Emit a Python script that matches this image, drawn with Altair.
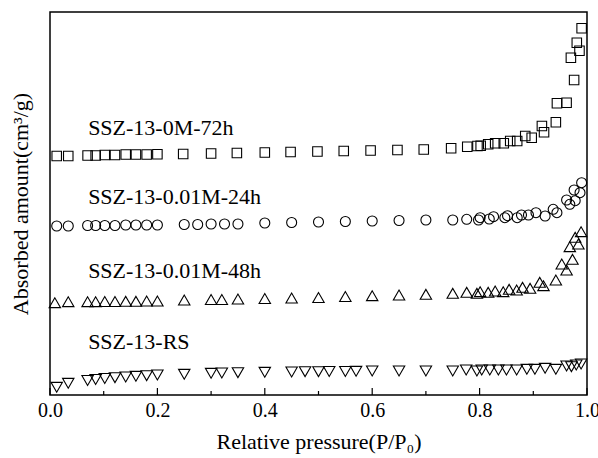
import altair as alt
import pandas as pd

# ---------------- data (arbitrary adsorption units) ----------------
p_72h = [0.0125, 0.034, 0.070, 0.085, 0.102, 0.121, 0.141, 0.160, 0.180, 0.200, 0.248, 0.300, 0.348,
         0.400, 0.448, 0.498, 0.547, 0.597, 0.647, 0.696, 0.747, 0.777, 0.796, 0.802, 0.816, 0.829,
         0.845, 0.857, 0.870, 0.885, 0.897, 0.916, 0.920, 0.942, 0.944, 0.962, 0.976, 0.970, 0.986,
         0.981, 0.990]
v_72h = [239, 239, 239.5, 239.5, 240, 240, 240.5, 240.5, 240.5, 240.7, 241, 241.5, 242,
         242.5, 243, 243.5, 244, 244.5, 245, 245.5, 246.7, 248.3, 249, 249.3, 250.7, 251.7,
         251.7, 254, 254, 259, 257.3, 269, 262.7, 272.7, 291.7, 292.3, 315, 337.3, 344.3,
         352.3, 366.7]

p_24h = [0.0125, 0.034, 0.070, 0.085, 0.102, 0.121, 0.141, 0.160, 0.180, 0.200, 0.250, 0.275, 0.300,
         0.325, 0.350, 0.400, 0.450, 0.500, 0.550, 0.600, 0.650, 0.700, 0.750, 0.776, 0.798, 0.801,
         0.818, 0.826, 0.847, 0.852, 0.870, 0.878, 0.891, 0.905, 0.922, 0.937, 0.944, 0.962, 0.968,
         0.978, 0.976, 0.987, 0.990]
v_24h = [169, 169, 169.5, 169.5, 169.5, 169.5, 170, 170, 170, 170, 170.5, 170.5, 171,
         171, 171, 172, 172.5, 173, 173.5, 174, 174.5, 175, 175, 175.7, 175, 177.3,
         176, 178.3, 177.3, 179.3, 177.3, 180, 180, 182.3, 179, 185.7, 182.3, 195, 190.7,
         194.3, 205, 202.3, 212.3]

p_48h = [0.009, 0.034, 0.070, 0.085, 0.102, 0.121, 0.141, 0.160, 0.180, 0.200, 0.250, 0.300, 0.320,
         0.350, 0.400, 0.450, 0.500, 0.550, 0.600, 0.650, 0.700, 0.750, 0.776, 0.795, 0.801, 0.816,
         0.829, 0.844, 0.855, 0.869, 0.880, 0.894, 0.912, 0.919, 0.942, 0.953, 0.962, 0.973, 0.968,
         0.984, 0.978, 0.989]
v_48h = [92.3, 93.3, 93.3, 93.3, 93.5, 93.5, 93.7, 93.7, 94, 94, 95, 95.5, 95.5,
         96, 96.5, 97, 97.5, 98.5, 99.3, 100, 100.7, 101.7, 102.7, 101.7, 103.3, 102.7,
         104, 103.3, 105.7, 105, 107.7, 106.7, 112.7, 109.3, 115, 131, 125, 135.7, 148.3,
         151, 157.7, 163.3]

p_rs = [0.0125, 0.034, 0.070, 0.085, 0.102, 0.121, 0.141, 0.160, 0.180, 0.200, 0.250, 0.300, 0.320,
        0.350, 0.400, 0.450, 0.475, 0.500, 0.520, 0.550, 0.570, 0.600, 0.650, 0.700, 0.750, 0.775,
        0.795, 0.804, 0.819, 0.835, 0.850, 0.869, 0.888, 0.903, 0.922, 0.942, 0.962, 0.971, 0.980,
        0.989]
v_rs = [7.7, 11.7, 14.5, 15.5, 16.5, 17.3, 18, 18.7, 19.3, 20, 20.7, 21.7, 22,
        22.3, 22.7, 23, 23.3, 23.3, 23.5, 23.5, 23.7, 24, 24, 24, 24, 25,
        24, 25, 25, 25, 25, 25, 25.7, 25.7, 26.7, 25.7, 29, 28.3, 30,
        31]

series_names = ["SSZ-13-0M-72h", "SSZ-13-0.01M-24h", "SSZ-13-0.01M-48h", "SSZ-13-RS"]
series_p = [p_72h, p_24h, p_48h, p_rs]
series_v = [v_72h, v_24h, v_48h, v_rs]

label_p = [0.071, 0.071, 0.071, 0.071]
label_v = [267, 198, 124, 53]

x_ticks = [0.0, 0.1, 0.2, 0.3, 0.4, 0.5, 0.6, 0.7, 0.8, 0.9, 1.0]
x_labels = [0.0, 0.2, 0.4, 0.6, 0.8, 1.0]

# ---------------- styling ----------------
FONT = "Liberation Serif"
shapes = ["square", "circle", "triangle-up", "triangle-down"]
sizes = [90, 100, 130, 130]

x_scale = alt.Scale(domain=[0, 1], nice=False, zero=False)
y_scale = alt.Scale(domain=[0, 383], nice=False, zero=False)

x_axis = alt.Axis(values=x_labels, format=".1f", ticks=False, domain=False, grid=False,
                  labelFlush=False, labelOverlap=False,
                  title="Relative pressure(P/P₀)", labelFont=FONT, labelFontSize=20,
                  labelColor="black", labelPadding=5, titleFont=FONT, titleFontSize=22,
                  titleFontWeight="normal", titleColor="black", titlePadding=11)
y_axis = alt.Axis(labels=False, ticks=False, domain=False, grid=False,
                  title="Absorbed amount(cm³/g)", titleFont=FONT, titleFontSize=22,
                  titleFontWeight="normal", titleColor="black", titlePadding=18)

X = alt.X("p:Q", scale=x_scale, axis=x_axis)
Y = alt.Y("v:Q", scale=y_scale, axis=y_axis)

layers = []
for i, (name, ps, vs) in enumerate(zip(series_names, series_p, series_v)):
    df = pd.DataFrame({"p": ps, "v": vs, "series": name})
    ch = alt.Chart(df).mark_point(shape=shapes[i], size=sizes[i], filled=False,
                                  color="black", strokeWidth=1.1, opacity=1).encode(x=X, y=Y)
    layers.append(ch)

tick_df = pd.DataFrame({"p": x_ticks,
                        "major": [abs(round(t * 10) % 2) == 0 for t in x_ticks]})
major_ticks = alt.Chart(tick_df).transform_filter("datum.major").mark_rule(
    color="black", strokeWidth=1.2).encode(x=X, y=alt.value(383), y2=alt.value(376))
minor_ticks = alt.Chart(tick_df).transform_filter("!datum.major").mark_rule(
    color="black", strokeWidth=1.2).encode(x=X, y=alt.value(383), y2=alt.value(379))

label_df = pd.DataFrame({"p": label_p, "v": label_v, "text": series_names})
labels = alt.Chart(label_df).mark_text(align="left", baseline="middle", font=FONT,
                                       fontSize=22, color="black").encode(
    x=X, y=Y, text="text:N")

chart = alt.layer(*layers, major_ticks, minor_ticks, labels).properties(
    width=537, height=383,
    autosize=alt.AutoSizeParams(type="none"),
    padding={"left": 50, "top": 12, "right": 11, "bottom": 63},
    background="white",
).configure_view(stroke="black", strokeWidth=1.5)

chart.save("out.html", embed_options={"renderer": "svg", "actions": False})
